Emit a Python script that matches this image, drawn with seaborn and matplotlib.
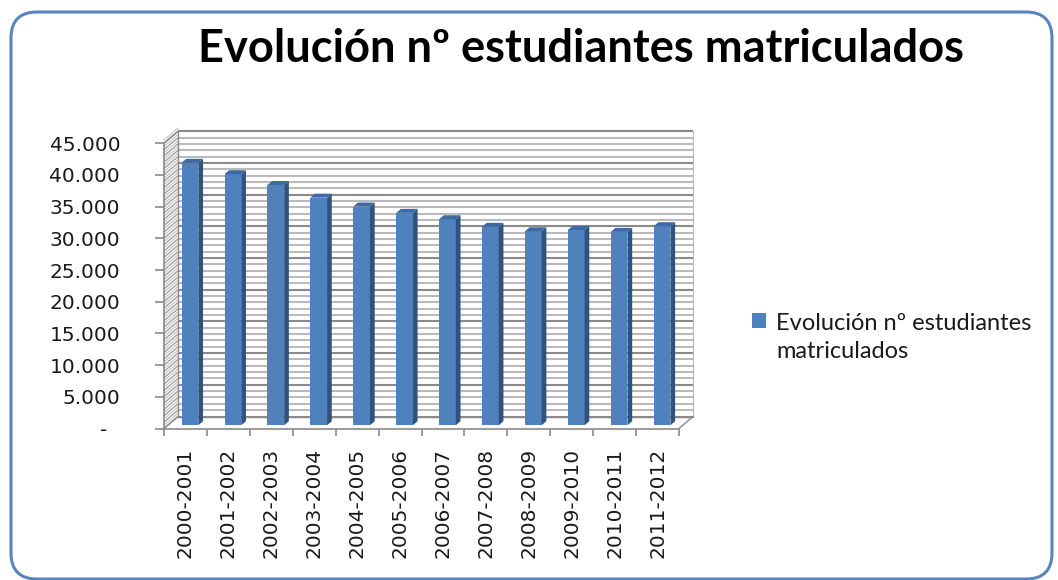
import matplotlib
matplotlib.use("Agg")
import matplotlib.pyplot as plt
from matplotlib.patches import FancyBboxPatch, Polygon
from matplotlib.ticker import FuncFormatter, MultipleLocator
import seaborn as sns

# data
temporadas = ["2000-2001", "2001-2002", "2002-2003", "2003-2004", "2004-2005", "2005-2006",
              "2006-2007", "2007-2008", "2008-2009", "2009-2010", "2010-2011", "2011-2012"]
alumnos = [41400, 39600, 37900, 35900, 34500, 33500, 32500, 31300, 30600, 30800, 30500, 31400]
serie = "Evolución nº estudiantes\nmatriculados"
titulo = "Evolución nº estudiantes matriculados"

W, H = 1058, 580
BLUE = "#4f81bd"
TOP = "#3e6aa4"
SIDE = "#30527e"
GRID_MINOR = "#bababa"
GRID_MAJOR = "#8a8a8a"
EDGE = "#8a8a8a"

sns.set_theme(style="white")
plt.rcParams["font.family"] = ["DejaVu Sans"]

fig = plt.figure(figsize=(W / 100, H / 100), dpi=100)
# front frame of the 3d plot area, in pixels
x0, x1, y0, y1 = 164, 679, 428.5, 143.3
ax = fig.add_axes([x0 / W, 1 - y0 / H, (x1 - x0) / W, (y0 - y1) / H])
ax.set_facecolor("none")

sns.barplot(x=temporadas, y=alumnos, color=BLUE, saturation=1, width=0.39,
            label=serie, ax=ax, zorder=3)
ax.set_xlim(-0.5, len(temporadas) - 0.5)
ax.set_ylim(0, 45000)

# pixel -> data helpers
px_x = len(temporadas) / (x1 - x0)
px_y = 45000 / (y0 - y1)

# back wall offset and bar depth offset
wall_dx, wall_dy = 14 * px_x, 12 * px_y
bar_dx, bar_dy = 4.5 * px_x, 3.3 * px_y
face_dx, face_dy = 4.7 * px_x, 4 * px_y

xmin, xmax = ax.get_xlim()
for v in range(0, 45001, 1000):
    major = v % 5000 == 0
    col = GRID_MAJOR if major else GRID_MINOR
    ax.plot([xmin + wall_dx, xmax + wall_dx], [v + wall_dy, v + wall_dy], color=col,
            lw=1.5, clip_on=False, zorder=1, solid_capstyle="butt")
    ax.plot([xmin, xmin + wall_dx], [v, v + wall_dy], color="#a8a8a8", lw=1.1,
            clip_on=False, zorder=1)
    # extra hatch line in between on the side wall
    ax.plot([xmin, xmin + wall_dx], [v + 500, v + 500 + wall_dy], color="#c8c8c8", lw=0.9,
            clip_on=False, zorder=1)

# wall edges
ax.plot([xmin + wall_dx] * 2, [wall_dy, 45000 + wall_dy], color=EDGE, lw=1, clip_on=False, zorder=2)
ax.plot([xmax + wall_dx] * 2, [wall_dy, 45000 + wall_dy], color=GRID_MINOR, lw=0.8, clip_on=False, zorder=2)
ax.plot([xmin, xmin + wall_dx], [45000, 45000 + wall_dy], color=EDGE, lw=1, clip_on=False, zorder=2)
ax.plot([xmin, xmin + wall_dx], [0, wall_dy], color=EDGE, lw=1, clip_on=False, zorder=2)
ax.plot([xmax, xmax + wall_dx], [0, wall_dy], color=EDGE, lw=1, clip_on=False, zorder=2)
ax.plot([xmin + wall_dx, xmax + wall_dx], [wall_dy, wall_dy], color=EDGE, lw=1, clip_on=False, zorder=2)

# 3d look for each bar, derived from seaborn's patches
for p in list(ax.patches):
    x, w, h = p.get_x() + bar_dx, p.get_width(), p.get_height()
    p.set_x(x)
    p.set_y(bar_dy)
    p.set_edgecolor("none")
    b = bar_dy
    side = Polygon([(x + w, b), (x + w + face_dx, b + face_dy), (x + w + face_dx, b + h + face_dy),
                    (x + w, b + h)], closed=True, fc=SIDE, ec="none", zorder=3)
    top = Polygon([(x, b + h), (x + face_dx, b + h + face_dy), (x + w + face_dx, b + h + face_dy),
                   (x + w, b + h)], closed=True, fc=TOP, ec="none", zorder=3)
    ax.add_patch(side)
    ax.add_patch(top)

for s in ["top", "right"]:
    ax.spines[s].set_visible(False)
for s in ["left", "bottom"]:
    ax.spines[s].set_color(EDGE)
    ax.spines[s].set_linewidth(1.2)
    ax.spines[s].set_zorder(2)

ax.yaxis.set_major_locator(MultipleLocator(5000))
ax.yaxis.set_major_formatter(FuncFormatter(
    lambda v, pos: "-  " if v == 0 else f"{int(v):,}".replace(",", ".")))
ax.tick_params(axis="y", which="major", left=True, length=6.5, width=1.2, color=EDGE,
               pad=25, labelsize=14.5, labelcolor="#1a1a1a")
ax.set_xticks(range(len(temporadas)))
ax.set_xticklabels(temporadas, rotation=90)
ax.set_xticks([i - 0.5 for i in range(len(temporadas) + 1)], minor=True)
ax.tick_params(axis="x", which="major", bottom=True, length=0, pad=14,
               labelsize=14.5, labelcolor="#1a1a1a")
ax.tick_params(axis="x", which="minor", bottom=True, length=5, width=1.2, color=EDGE)
ax.set_xlabel("")
ax.set_ylabel("")
ax.grid(False)

leg = ax.legend(loc="upper left", bbox_to_anchor=(752 / W, 1 - 313 / H),
                bbox_transform=fig.transFigure, frameon=False, handlelength=0.58,
                handleheight=0.58, handletextpad=0.45, borderpad=0, borderaxespad=0,
                prop={"family": "Lato", "size": 17})
for t in leg.get_texts():
    t.set_color("#1a1a1a")
    t.set_linespacing(1.4)
# keep the marker level with the first line of the label
for col in leg._legend_handle_box.get_children():
    for row in col.get_children():
        row.align = "top"

fig.text(581 / W, 1 - 62 / H, titulo, ha="center", va="baseline", fontsize=32.6,
         fontweight="bold", family="Lato", color="black")

border = FancyBboxPatch((11 / 100, 1 / 100), (1052 - 11) / 100, (579 - 12) / 100,
                        boxstyle="round,pad=0,rounding_size=0.26",
                        transform=fig.dpi_scale_trans, fc="none", ec="#5884c0", lw=2.2)
fig.add_artist(border)

fig.savefig("out.png", dpi=100)
